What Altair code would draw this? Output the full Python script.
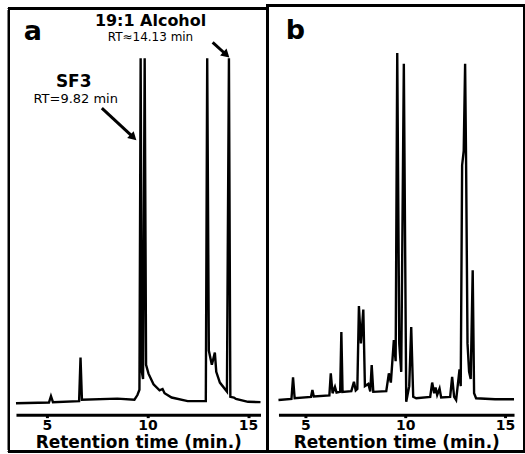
import altair as alt
import pandas as pd

# ---- data ----
time_a = [3.46, 5.10, 5.20, 5.30, 6.60, 6.67, 6.74, 8.50, 9.35, 9.50, 9.60, 9.66, 9.72, 9.78,
          9.86, 9.93, 10.05, 10.30, 10.60, 10.75, 10.85, 11.20, 12.00, 12.90, 12.97, 13.05,
          13.20, 13.35, 13.42, 13.60, 13.95, 14.05, 14.12, 14.30, 14.40, 15.00, 15.62]
signal_a = [3.2, 3.4, 5.2, 3.5, 3.8, 16.0, 4.2, 4.5, 4.2, 5.5, 7.0, 100.0, 12.0, 10.0,
            100.0, 14.0, 11.5, 8.5, 6.8, 7.2, 6.0, 4.8, 3.8, 3.8, 100.0, 18.0,
            14.0, 17.4, 12.0, 9.0, 6.5, 100.0, 5.0, 4.8, 4.4, 3.6, 3.5]

time_b = [3.65, 4.30, 4.38, 4.46, 5.28, 5.35, 5.42, 6.20, 6.27, 6.36, 6.48, 6.56, 6.74, 6.80,
          6.86, 7.30, 7.43, 7.52, 7.60, 7.68, 7.78, 7.90, 7.98, 8.15, 8.25, 8.32, 8.40,
          9.05, 9.18, 9.28, 9.43, 9.52, 9.60, 9.70, 9.80, 9.93, 10.05, 10.20, 10.30, 10.40,
          10.55, 11.25, 11.35, 11.45, 11.52, 11.60, 11.72, 11.80, 12.25, 12.35, 12.45,
          12.55, 12.72, 12.78, 12.85, 12.93, 13.00, 13.05, 13.12, 13.20, 13.28, 13.38,
          13.45, 13.55, 14.50, 15.45]
signal_b = [4.1, 4.4, 10.5, 4.6, 5.0, 6.9, 5.1, 5.4, 11.6, 6.0, 7.8, 6.2, 6.4, 23.2,
            6.4, 6.6, 9.2, 6.8, 7.2, 30.5, 20.0, 29.5, 8.0, 8.6, 6.5, 13.9, 6.4,
            6.6, 11.6, 9.0, 20.9, 15.0, 101.5, 20.0, 12.0, 98.5, 3.6, 8.0, 24.6, 5.0,
            4.6, 5.0, 9.0, 6.0, 7.6, 5.5, 7.3, 4.8, 5.0, 10.6, 5.0,
            4.1, 12.7, 8.0, 70.0, 74.0, 98.5, 70.0, 20.0, 12.0, 10.0, 40.5,
            6.0, 4.6, 4.3, 4.3]

tick_values = [5, 10, 15]

labels_a = ["a", "19:1 Alcohol", "RT\u224814.13 min", "SF3", "RT=9.82 min"]

df_a = pd.DataFrame({"t": time_a, "v": signal_a, "i": range(len(time_a))})
df_b = pd.DataFrame({"t": time_b, "v": signal_b, "i": range(len(time_b))})

W_A, W_B, H = 245, 236, 357
Y_DOM = [0, 100]
DOM_A = [3.46, 15.62]
DOM_B = [3.65, 15.45]


def sx(domain):
    return alt.Scale(domain=domain, nice=False, zero=False)


def sy():
    return alt.Scale(domain=Y_DOM, nice=False, zero=False)


AXIS_X = alt.Axis(
    values=tick_values, title="Retention time (min.)", grid=False,
    domainWidth=3, domainColor="black", tickColor="black", tickSize=3, tickWidth=3,
    labelFont="DejaVu Sans", labelFontWeight="bold", labelFontSize=14, labelColor="black",
    labelPadding=1, titleFont="DejaVu Sans", titleFontWeight="bold", titleFontSize=17,
    titleColor="black", titlePadding=2, labelFlush=False,
)


def X(domain):
    return alt.X("t:Q", scale=sx(domain), axis=AXIS_X)


def Y():
    return alt.Y("v:Q", scale=sy(), axis=None)


def panel(df, width, domain, frame_x, frame_x2, frame_y, extra):
    line = alt.Chart(df).mark_line(color="black", strokeWidth=2.4, clip=False).encode(
        x=X(domain), y=Y(), order="i:Q")
    frame = alt.Chart(df).mark_rect(fill=None, stroke="black", strokeWidth=2).encode(
        x=alt.value(frame_x), x2=alt.value(frame_x2),
        y=alt.value(frame_y), y2=alt.value(H + 37))
    return alt.layer(line, frame, *extra).properties(width=width, height=H)


def text_layer(text, t, v, size, domain, weight="bold"):
    d = pd.DataFrame({"t": [t], "v": [v], "s": [text]})
    return alt.Chart(d).mark_text(fontSize=size, fontWeight=weight, font="DejaVu Sans",
                                  color="black", align="center", baseline="middle").encode(
        x=X(domain), y=Y(), text="s:N")


def arrow(t1, v1, t2, v2, angle, domain):
    d = pd.DataFrame({"t": [t1, t2], "v": [v1, v2], "i": [0, 1]})
    ln = alt.Chart(d).mark_line(color="black", strokeWidth=3, clip=False).encode(
        x=X(domain), y=Y(), order="i:Q")
    head = alt.Chart(d.iloc[[1]]).mark_point(shape="triangle-up", filled=True, color="black",
                                             size=90, angle=angle, opacity=1).encode(
        x=X(domain), y=Y())
    return [ln, head]


extra_a = [
    text_layer(labels_a[0], 4.30, 107.5, 27, DOM_A),
    text_layer(labels_a[1], 10.15, 110.4, 16, DOM_A),
    text_layer(labels_a[2], 10.15, 106.1, 12, DOM_A, weight="normal"),
    text_layer(labels_a[3], 6.33, 93.3, 17, DOM_A),
    text_layer(labels_a[4], 6.43, 88.5, 13, DOM_A, weight="normal"),
    *arrow(7.73, 86.0, 9.30, 77.8, 133, DOM_A),
    *arrow(13.24, 104.5, 13.92, 101.0, 133, DOM_A),
]
extra_b = [text_layer("b", 4.50, 107.8, 27, DOM_B)]

pa = panel(df_a, W_A, DOM_A, -7, 252, -50, extra_a)
pb = panel(df_b, W_B, DOM_B, -11, 246, -53, extra_b)

chart = alt.hconcat(pa, pb, spacing=18, bounds="flush").properties(
    padding={"left": 8, "top": 4, "right": 0, "bottom": 0},
    background="white",
).configure_view(stroke=None)

chart.save("out.html", embed_options={"renderer": "svg", "actions": False})
